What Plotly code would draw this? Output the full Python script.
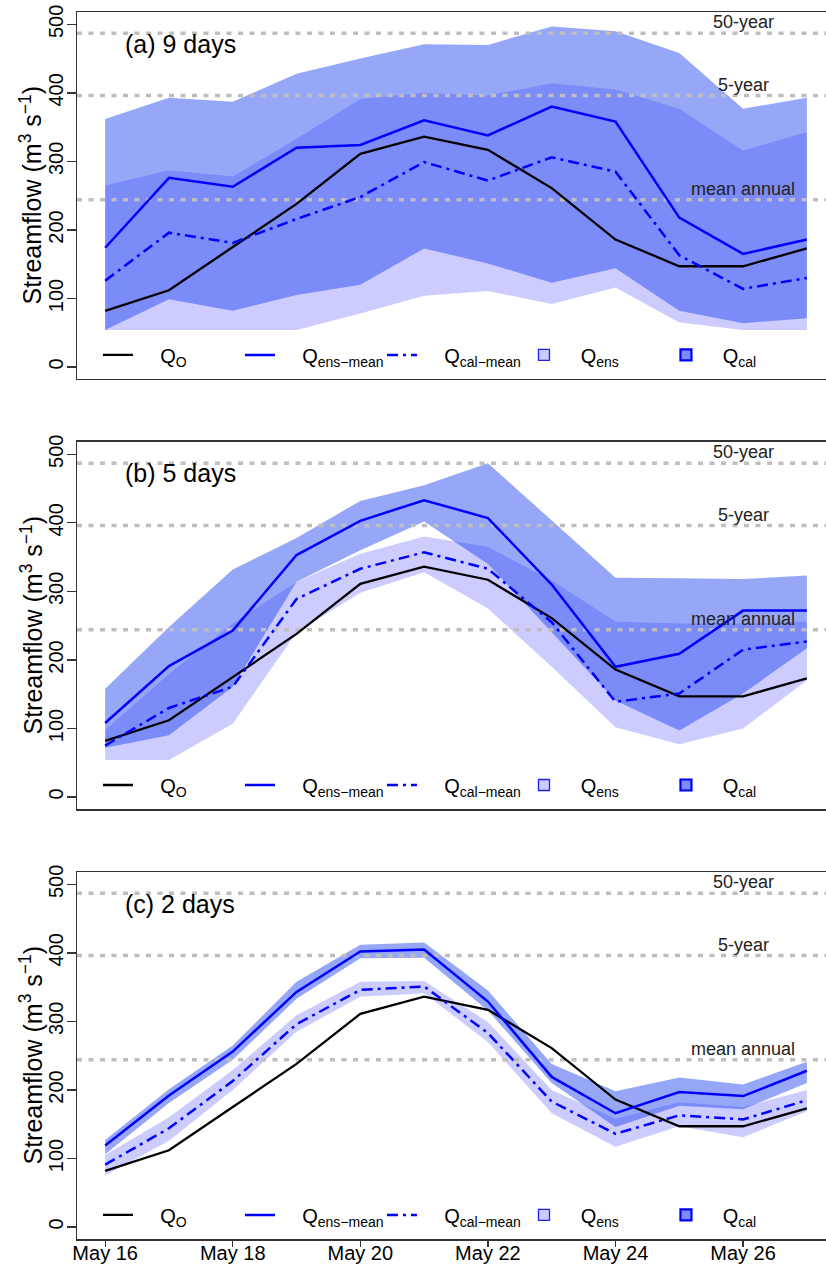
import plotly.graph_objects as go
import pandas as pd

# ---------------- data ----------------
dates = list(pd.date_range('2016-05-16', periods=12, freq='D'))
tick_dates = dates[::2]
tick_labels = ['May 16', 'May 18', 'May 20', 'May 22', 'May 24', 'May 26']

q_obs = [82, 112, 175, 238, 311, 336, 317, 261, 186, 147, 147, 173]

# panel (a) 9 days
ens_mean_a = [174, 276, 263, 320, 324, 360, 338, 380, 358, 218, 165, 186]
cal_mean_a = [126, 196, 181, 216, 248, 299, 272, 306, 285, 163, 114, 130]
ens_up_a = [362, 393, 387, 428, 450, 471, 470, 497, 490, 458, 377, 393]
ens_lo_a = [54, 99, 82, 105, 120, 173, 151, 123, 144, 82, 64, 71]
cal_up_a = [265, 287, 278, 333, 391, 400, 396, 414, 405, 377, 316, 343]
cal_lo_a = [54, 54, 54, 54, 78, 104, 111, 92, 116, 65, 54, 54]

# panel (b) 5 days
ens_mean_b = [108, 191, 243, 353, 403, 433, 407, 310, 190, 209, 272, 272]
cal_mean_b = [75, 130, 161, 289, 333, 357, 333, 255, 139, 151, 215, 227]
ens_up_b = [158, 248, 332, 378, 432, 455, 487, 403, 320, 319, 318, 323]
ens_lo_b = [72, 90, 161, 314, 360, 402, 340, 241, 141, 97, 151, 217]
cal_up_b = [98, 180, 253, 314, 355, 380, 365, 316, 256, 253, 253, 256]
cal_lo_b = [54, 54, 107, 240, 298, 328, 275, 190, 102, 77, 100, 170]

# panel (c) 2 days
ens_mean_c = [119, 192, 256, 343, 402, 405, 329, 219, 166, 197, 191, 228]
cal_mean_c = [91, 144, 213, 296, 346, 351, 283, 183, 136, 163, 157, 185]
ens_up_c = [127, 201, 265, 358, 412, 415, 345, 238, 198, 218, 208, 241]
ens_lo_c = [106, 181, 244, 333, 392, 393, 316, 210, 146, 177, 172, 210]
cal_up_c = [105, 160, 229, 309, 358, 359, 299, 200, 158, 182, 175, 200]
cal_lo_c = [75, 126, 200, 285, 336, 341, 270, 166, 117, 147, 131, 169]

panel_titles = ['(a) 9 days', '(b) 5 days', '(c) 2 days']
thresholds = [487, 396, 244]
threshold_labels = ['50-year', '5-year', 'mean annual']
legend_names = ['Q<sub>O</sub>', 'Q<sub>ens\u2212mean</sub>', 'Q<sub>cal\u2212mean</sub>',
                'Q<sub>ens</sub>', 'Q<sub>cal</sub>']
y_title = 'Streamflow (m<sup>3</sup> s<sup>\u22121</sup>)'
y_ticks = [0, 100, 200, 300, 400, 500]

panels = [
    dict(em=ens_mean_a, cm=cal_mean_a, eu=ens_up_a, el=ens_lo_a, cu=cal_up_a, cl=cal_lo_a),
    dict(em=ens_mean_b, cm=cal_mean_b, eu=ens_up_b, el=ens_lo_b, cu=cal_up_b, cl=cal_lo_b),
    dict(em=ens_mean_c, cm=cal_mean_c, eu=ens_up_c, el=ens_lo_c, cu=cal_up_c, cl=cal_lo_c),
]

# ---------------- style ----------------
FONT = 'Liberation Sans, Arial, sans-serif'
LAV = 'rgba(0,0,255,0.2)'
BLUEBAND = 'rgba(29,64,240,0.46)'
GRAY = '#BEBEBE'
DASHDOT = '11px,5px,3px,5px'
NB = '\u00a0'

x_lo = dates[0] - pd.Timedelta(hours=10.6)
x_hi = dates[0] + pd.Timedelta(hours=11.3 * 24)

fig = go.Figure()
domains = [[0.7009, 1.0], [0.3504, 0.6496], [0.0, 0.2991]]
legend_y = [0.7205, 0.370, 0.0196]

for i, p in enumerate(panels):
    sfx = '' if i == 0 else str(i + 1)
    xa, ya, lg = 'x' + sfx, 'y' + sfx, 'legend' + sfx
    xs_poly = dates + dates[::-1]
    fig.add_trace(go.Scatter(x=xs_poly, y=p['cu'] + p['cl'][::-1], fill='toself', fillcolor=LAV,
                             mode='lines', line=dict(width=0), showlegend=False, hoverinfo='skip',
                             xaxis=xa, yaxis=ya))
    fig.add_trace(go.Scatter(x=xs_poly, y=p['eu'] + p['el'][::-1], fill='toself', fillcolor=BLUEBAND,
                             mode='lines', line=dict(width=0), showlegend=False, hoverinfo='skip',
                             xaxis=xa, yaxis=ya))
    for t in thresholds:
        fig.add_trace(go.Scatter(x=[x_lo, x_hi], y=[t, t], mode='lines',
                                 line=dict(color=GRAY, width=3.5, dash='5px,6.5px'),
                                 showlegend=False, hoverinfo='skip', xaxis=xa, yaxis=ya))
    fig.add_trace(go.Scatter(x=dates, y=q_obs, mode='lines', line=dict(color='black', width=2.3),
                             name=NB * 4 + legend_names[0], legend=lg, xaxis=xa, yaxis=ya))
    fig.add_trace(go.Scatter(x=dates, y=p['em'], mode='lines', line=dict(color='#0000FF', width=2.5),
                             name=NB * 4 + legend_names[1], legend=lg, xaxis=xa, yaxis=ya))
    fig.add_trace(go.Scatter(x=dates, y=p['cm'], mode='lines',
                             line=dict(color='#0000FF', width=2.5, dash=DASHDOT),
                             name=NB * 4 + legend_names[2], legend=lg, xaxis=xa, yaxis=ya))
    fig.add_trace(go.Scatter(x=[None], y=[None], mode='markers',
                             marker=dict(symbol='square', size=11, color='#CCCCFF',
                                         line=dict(color='#2020FF', width=1.3)),
                             name=NB * 3 + legend_names[3], legend=lg, xaxis=xa, yaxis=ya))
    fig.add_trace(go.Scatter(x=[None], y=[None], mode='markers',
                             marker=dict(symbol='square', size=11, color='#7B8CF8',
                                         line=dict(color='#0000FF', width=2.2)),
                             name=NB * 3 + legend_names[4], legend=lg, xaxis=xa, yaxis=ya))

    last = (i == 2)
    fig.update_layout({
        'xaxis' + sfx: dict(domain=[0, 1], anchor=ya, type='date', range=[x_lo, x_hi],
                            automargin=False,
                            showgrid=False, zeroline=False, showline=True, mirror=True,
                            linecolor='#333', linewidth=1.5,
                            tickmode='array', tickvals=tick_dates, ticktext=tick_labels,
                            showticklabels=last, ticks='outside' if last else '',
                            ticklen=6, tickwidth=1.3, tickcolor='#333', ticklabelstandoff=-11,
                            ticklabeloverflow='allow',
                            tickfont=dict(size=20, family=FONT, color='black')),
        'yaxis' + sfx: dict(domain=domains[i], anchor=xa, range=[-17.5, 518],
                            automargin=False,
                            showgrid=False, zeroline=False, showline=True, mirror=False,
                            linecolor='#333', linewidth=1.5,
                            tickmode='array', tickvals=y_ticks,
                            ticks='outside', ticklen=9, tickwidth=1.3, tickcolor='#333',
                            ticklabelstandoff=-4, ticklabeloverflow='allow',
                            tickangle=-90, tickfont=dict(size=20, family=FONT, color='black')),
        lg: dict(orientation='h', x=0.028, xanchor='left', y=legend_y[i], yanchor='middle',
                 entrywidth=97, entrywidthmode='pixels', bgcolor='rgba(0,0,0,0)',
                 font=dict(size=20, family=FONT, color='black'), itemclick=False),
    })
    fig.add_annotation(x=0, y=sum(domains[i]) / 2, xref='paper', yref='paper', text=y_title,
                       textangle=-90, showarrow=False, xanchor='center', yanchor='middle',
                       xshift=-46, font=dict(size=25, family=FONT, color='black'))
    fig.add_annotation(x=dates[0] + pd.Timedelta(hours=6.7), y=472, xref=xa, yref=ya,
                       text=panel_titles[i], showarrow=False, xanchor='left', yanchor='middle',
                       font=dict(size=25, family=FONT, color='black'))
    for t, lab in zip(thresholds, threshold_labels):
        fig.add_annotation(x=dates[10], y=t, xref=xa, yref=ya, text=lab, showarrow=False,
                           xanchor='center', yanchor='middle', yshift=11,
                           font=dict(size=18, family=FONT, color='#222'))

fig.update_layout(width=826, height=1265, margin=dict(l=77, r=0, t=12, b=26),
                  paper_bgcolor='white', plot_bgcolor='white', showlegend=True,
                  hovermode=False)

# remove the default 8px page margin so the figure sits at the window's corner
fig.write_html('out.html', config={'displayModeBar': False, 'staticPlot': True},
               post_script="document.body.style.margin='0';")
